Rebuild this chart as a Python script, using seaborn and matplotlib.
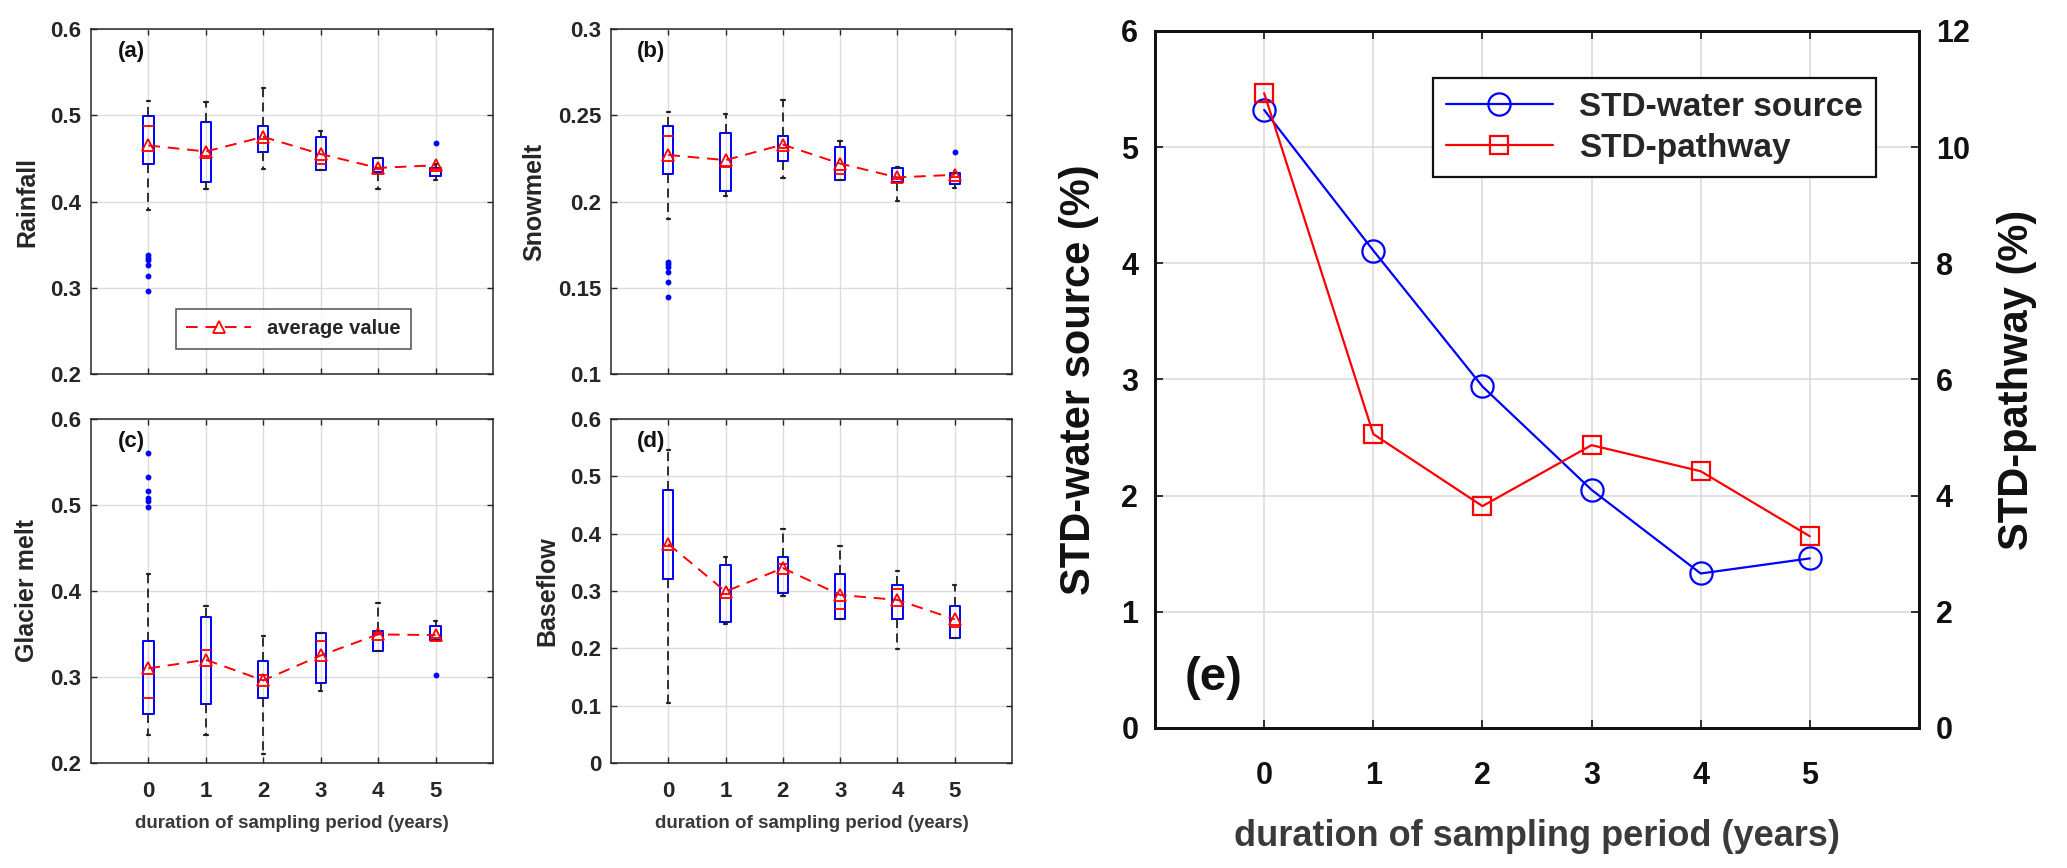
import numpy as np
import pandas as pd
import seaborn as sns
import matplotlib
matplotlib.use('Agg')
import matplotlib.pyplot as plt
from matplotlib.ticker import FormatStrFormatter, MultipleLocator

years = [0, 1, 2, 3, 4, 5]

# box statistics (q1, median, q3, whiskers, outliers, mean)
rain_q1 = [0.443, 0.423, 0.457, 0.436, 0.434, 0.430]
rain_med = [0.487, 0.453, 0.472, 0.443, 0.4375, 0.4375]
rain_q3 = [0.499, 0.492, 0.488, 0.475, 0.450, 0.439]
rain_lo = [0.390, 0.415, 0.438, 0.436, 0.414, 0.425]
rain_hi = [0.516, 0.515, 0.532, 0.482, 0.451, 0.443]
rain_out = [[0.338, 0.335, 0.332, 0.327, 0.314, 0.296], [], [], [], [], [0.468]]
rain_mean = [0.465, 0.458, 0.475, 0.455, 0.439, 0.442]

snow_q1 = [0.216, 0.206, 0.2236, 0.2126, 0.2116, 0.210]
snow_med = [0.2377, 0.2203, 0.231, 0.216, 0.213, 0.214]
snow_q3 = [0.2435, 0.2397, 0.2377, 0.2315, 0.2197, 0.2164]
snow_lo = [0.190, 0.203, 0.2135, 0.2126, 0.2004, 0.2077]
snow_hi = [0.252, 0.251, 0.259, 0.235, 0.2203, 0.2164]
snow_out = [[0.165, 0.1636, 0.1623, 0.1594, 0.1534, 0.1445], [], [], [], [], [0.2286]]
snow_mean = [0.227, 0.224, 0.233, 0.222, 0.214, 0.2155]

glac_q1 = [0.2575, 0.268, 0.275, 0.293, 0.330, 0.343]
glac_med = [0.2757, 0.331, 0.302, 0.342, 0.351, 0.345]
glac_q3 = [0.3417, 0.370, 0.318, 0.351, 0.354, 0.359]
glac_lo = [0.232, 0.233, 0.210, 0.284, 0.330, 0.343]
glac_hi = [0.420, 0.382, 0.348, 0.351, 0.386, 0.365]
glac_out = [[0.560, 0.533, 0.516, 0.508, 0.505, 0.498], [], [], [], [], [0.302]]
glac_mean = [0.310, 0.320, 0.296, 0.325, 0.3495, 0.3487]

base_q1 = [0.3205, 0.2465, 0.296, 0.2506, 0.251, 0.218]
base_med = [0.379, 0.295, 0.347, 0.2686, 0.3036, 0.2366]
base_q3 = [0.4767, 0.3456, 0.360, 0.330, 0.3106, 0.274]
base_lo = [0.104, 0.2424, 0.291, 0.2506, 0.198, 0.218]
base_hi = [0.5455, 0.359, 0.4085, 0.379, 0.334, 0.3106]
base_out = [[], [], [], [], [], []]
base_mean = [0.382, 0.299, 0.340, 0.293, 0.2844, 0.2506]

# panel (e)
std_source = [5.32, 4.11, 2.94, 2.05, 1.33, 1.46]
std_pathway = [10.93, 5.06, 3.82, 4.87, 4.42, 3.30]

sns.set_style('ticks')
plt.rcParams['font.family'] = ['Liberation Sans', 'DejaVu Sans']
plt.rcParams['font.weight'] = 'bold'
plt.rcParams['axes.labelweight'] = 'bold'

ink = '#262626'
xlab_col = '#3a3a3a'
gridc = '#dcdcdc'

fig = plt.figure(figsize=(20.67, 8.68), dpi=100)


def small_panel(rect, q1, med, q3, lo, hi, out, mean, ylim, step, ylab, tag, show_x, legend=False):
    ax = fig.add_axes(rect)
    stats = []
    for i in range(len(years)):
        stats.append(dict(q1=q1[i], med=med[i], q3=q3[i], whislo=lo[i], whishi=hi[i],
                          fliers=out[i]))
    ax.bxp(stats, positions=years, widths=0.18, capwidths=0.06, showfliers=True,
           boxprops=dict(color='blue', lw=1.4),
           medianprops=dict(color='red', lw=1.3),
           whiskerprops=dict(color='#202020', lw=1.3, linestyle=(0, (5, 3))),
           capprops=dict(color='#202020', lw=1.6),
           flierprops=dict(marker='o', markerfacecolor='blue', markeredgecolor='blue',
                           markersize=3.2, linestyle='none'),
           manage_ticks=False)
    df = pd.DataFrame({'year': years, 'mean': mean})
    sns.lineplot(data=df, x='year', y='mean', ax=ax, color='red', linestyle=(0, (6, 4)),
                 lw=1.4, marker='^', markersize=8, markerfacecolor='none',
                 markeredgecolor='red', markeredgewidth=1.3, label='average value',
                 legend=False)
    ax.set_xlim(-1, 6)
    ax.set_ylim(*ylim)
    ax.set_xticks(years)
    ax.yaxis.set_major_locator(MultipleLocator(step))
    ax.yaxis.set_major_formatter(FormatStrFormatter('%g'))
    ax.grid(True, color=gridc, lw=1)
    ax.set_axisbelow(True)
    for s in ax.spines.values():
        s.set_linewidth(1.1)
        s.set_color(ink)
    ax.tick_params(direction='in', top=True, right=True, length=4, width=1,
                   labelsize=16, colors=ink)
    ax.tick_params(axis='x', pad=13)
    ax.tick_params(axis='y', pad=7)
    ax.set_ylabel(ylab, fontsize=18, color=ink, labelpad=8)
    if show_x:
        ax.set_xlabel('duration of sampling period (years)', fontsize=13.5,
                      color=xlab_col, labelpad=9)
    else:
        ax.set_xticklabels([])
        ax.set_xlabel('')
    ax.text(0.1, 0.935, tag, transform=ax.transAxes, fontsize=16, ha='center',
            va='center', color='#111111')
    if legend:
        lg = ax.legend(loc='lower right', bbox_to_anchor=(0.82, 0.045), fontsize=14.5,
                       frameon=True, fancybox=False, edgecolor='#222222',
                       handlelength=3.2, borderpad=0.5)
        lg.get_frame().set_linewidth(1.1)
    return ax


small_panel([0.044, 0.569, 0.1945, 0.3976], rain_q1, rain_med, rain_q3, rain_lo, rain_hi,
            rain_out, rain_mean, (0.2, 0.6), 0.1, 'Rainfall', '(a)', False, legend=True)
small_panel([0.2956, 0.569, 0.194, 0.3976], snow_q1, snow_med, snow_q3, snow_lo, snow_hi,
            snow_out, snow_mean, (0.1, 0.3), 0.05, 'Snowmelt', '(b)', False)
small_panel([0.044, 0.121, 0.1945, 0.3963], glac_q1, glac_med, glac_q3, glac_lo, glac_hi,
            glac_out, glac_mean, (0.2, 0.6), 0.1, 'Glacier melt', '(c)', True)
small_panel([0.2956, 0.121, 0.194, 0.3963], base_q1, base_med, base_q3, base_lo, base_hi,
            base_out, base_mean, (0.0, 0.6), 0.1, 'Baseflow', '(d)', True)

# panel (e) with twin y axis
ax = fig.add_axes([0.5588, 0.1613, 0.3696, 0.803])
ax2 = ax.twinx()
sns.lineplot(x=years, y=std_source, ax=ax, color='blue', lw=1.6, marker='o',
             markersize=16, markerfacecolor='none', markeredgecolor='blue',
             markeredgewidth=1.6, label='STD-water source', legend=False)
sns.lineplot(x=years, y=std_pathway, ax=ax2, color='red', lw=1.6, marker='s',
             markersize=13, markerfacecolor='none', markeredgecolor='red',
             markeredgewidth=1.6, label='STD-pathway', legend=False)
ax.set_xlim(-1, 6)
ax.set_ylim(0, 6)
ax2.set_ylim(0, 12)
ax.set_xticks(years)
ax.set_yticks(range(0, 7))
ax2.set_yticks(range(0, 13, 2))
ax.grid(True, color=gridc, lw=1.2)
ax.set_axisbelow(True)
ax2.grid(False)
for a in (ax, ax2):
    for s in a.spines.values():
        s.set_linewidth(2)
        s.set_color('#111111')
ax.tick_params(direction='in', top=True, right=False, length=6, width=1.2,
               labelsize=22, colors='#111111')
ax.tick_params(axis='x', pad=24)
ax.tick_params(axis='y', pad=12)
ax2.tick_params(direction='in', length=6, width=1.2, labelsize=22, colors='#111111', pad=12)
ax.set_xlabel('duration of sampling period (years)', fontsize=26, color=xlab_col,
              labelpad=20)
ax.set_ylabel('STD-water source (%)', fontsize=30, color='#111111', labelpad=16)
ax2.set_ylabel('STD-pathway (%)', fontsize=30, color='#111111', labelpad=20)
ax.text(0.076, 0.072, '(e)', transform=ax.transAxes, fontsize=34, ha='center',
        va='center', color='#111111')
h1, l1 = ax.get_legend_handles_labels()
h2, l2 = ax2.get_legend_handles_labels()
lg = ax2.legend(h1 + h2, l1 + l2, loc='upper right', bbox_to_anchor=(0.966, 0.956),
                fontsize=24, frameon=True, fancybox=False, edgecolor='#111111',
                framealpha=1, handlelength=3.2, borderpad=0.4, labelspacing=0.3)
lg.get_frame().set_linewidth(1.6)

fig.savefig('out.png', dpi=100)
